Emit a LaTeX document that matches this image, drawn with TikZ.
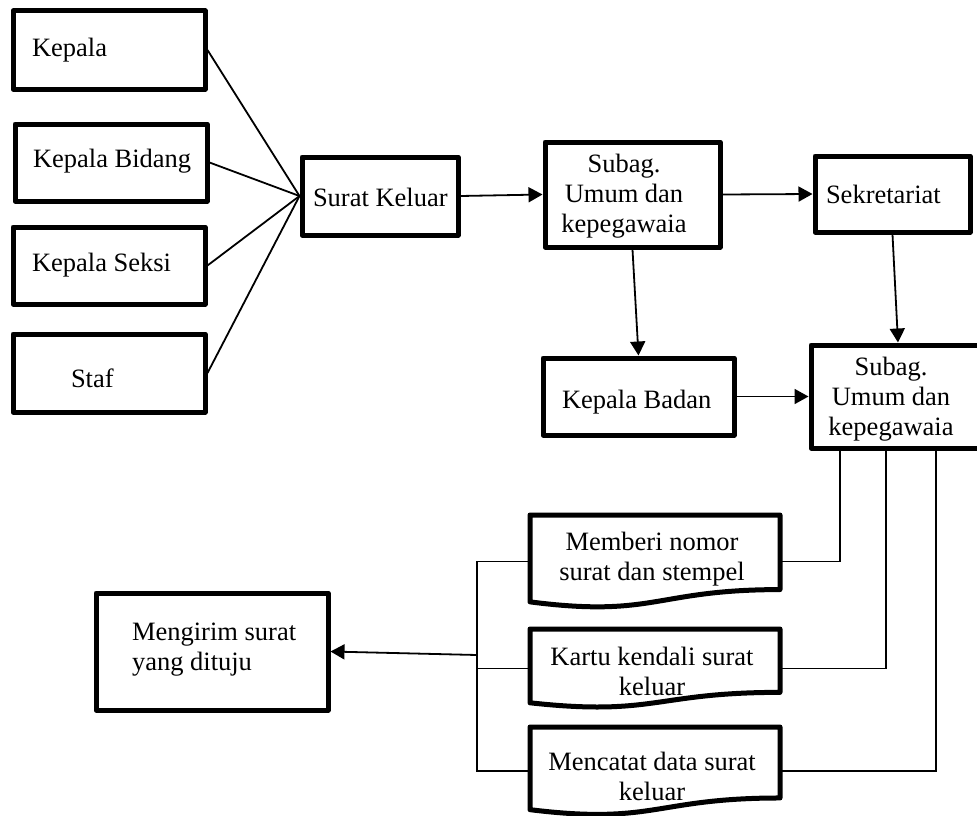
\documentclass[tikz,border=0pt]{standalone}
\usepackage{fontspec}
\setmainfont{Liberation Serif}
\usetikzlibrary{arrows.meta,calc}
\begin{document}
\begin{tikzpicture}[x=1pt,y=-1pt,
  box/.style={draw, line width=5pt, fill=white, inner sep=0pt, line join=round},
  docnode/.style={inner sep=0pt, outer sep=0pt},
  docline/.style={draw, line width=5pt, fill=white, line join=round},
  txt/.style={font=\fontsize{26.5}{30}\selectfont, inner sep=0pt, outer sep=0pt},
  conn/.style={line width=1.8pt},
  arr/.style={line width=1.8pt, -{Triangle[length=14pt,width=15pt]}}]
\useasboundingbox (0,0) rectangle (977,816);
% boxes
\node[box, minimum width=192pt, minimum height=78pt] (kepala) at (109,50) {};
\node[box, minimum width=192pt, minimum height=77pt] (bidang) at (111,162.5) {};
\node[box, minimum width=192pt, minimum height=77pt] (seksi) at (109,265.5) {};
\node[box, minimum width=192pt, minimum height=78pt] (staf) at (109,373) {};
\node[box, minimum width=156pt, minimum height=78pt] (surat) at (380,196) {};
\node[box, minimum width=175pt, minimum height=105pt] (subagA) at (632.5,194.5) {};
\node[box, minimum width=155pt, minimum height=76pt] (sekre) at (892.5,194) {};
\node[box, minimum width=191pt, minimum height=77pt] (badan) at (638.5,396.5) {};
\node[box, minimum width=174pt, minimum height=103pt] (subagB) at (898,396.5) {};
\node[box, minimum width=232pt, minimum height=117pt] (kirim) at (212,651.5) {};
% document shapes
\node[docnode, minimum width=250pt, minimum height=93pt] (memberi) at (655,561.5) {};
\node[docnode, minimum width=250pt, minimum height=79pt] (kartu) at (655,668.5) {};
\node[docnode, minimum width=250pt, minimum height=88.5pt] (catat) at (655,771.25) {};
\foreach \n in {memberi,kartu,catat}{
  \path[docline] (\n.north west) -- (\n.north east) -- ($(\n.north east)!0.802!(\n.south east)$)
    .. controls ($(\n.north)!0.802!(\n.south)$) and ($(\n.north)!1.1075!(\n.south)$) ..
    ($(\n.north west)!0.934!(\n.south west)$) -- cycle;
}
% texts
\node[txt, anchor=base west] (t1) at (32,57) {Kepala};
\node[txt, anchor=base west] (t2) at (33,167) {Kepala Bidang};
\node[txt, anchor=base west] (t3) at (32,271) {Kepala Seksi};
\node[txt, anchor=base west] (t4) at (71,387) {Staf};
\node[txt, anchor=base west] (t5) at (313,206) {Surat Keluar};
\node[txt, anchor=base, align=center] (t6) at (624,232) {Subag.\\Umum dan\\kepegawaia};
\node[txt, anchor=base west] (t7) at (826,203) {Sekretariat};
\node[txt, anchor=base west] (t8) at (562,408) {Kepala Badan};
\node[txt, anchor=base, align=center] (t9) at (891,435) {Subag.\\Umum dan\\kepegawaia};
\node[txt, anchor=base, align=center] (t10) at (652,580) {Memberi nomor\\surat dan stempel};
\node[txt, anchor=base, align=center] (t11) at (652,695) {Kartu kendali surat\\keluar};
\node[txt, anchor=base, align=center] (t12) at (652,800) {Mencatat data surat\\keluar};
\node[txt, anchor=base west, align=left] (t13) at (132,670) {Mengirim surat\\yang dituju};
% connectors
\foreach \n in {kepala,bidang,seksi,staf}{ \draw[conn] (\n.east) -- (surat.west); }
\draw[arr] (surat.east) -- (subagA.west);
\draw[arr] (subagA.east) -- (sekre.west);
\draw[arr] (subagA.south) -- (badan.north);
\draw[arr] (sekre.south) -- (subagB.north);
\draw[arr] (badan.east) -- (subagB.west);
\coordinate (b1) at (840,0);
\coordinate (b2) at (886,0);
\coordinate (b3) at (936,0);
\coordinate (bus) at (477,0);
\coordinate (busarr) at (477,655);
\draw[conn] (b1 |- subagB.south) |- (memberi.east);
\draw[conn] (b2 |- subagB.south) |- (kartu.east);
\draw[conn] (b3 |- subagB.south) |- (catat.east);
\draw[conn] (memberi.west) -| (bus |- catat.west) -- (catat.west);
\draw[conn] (kartu.west) -- (bus |- kartu.west);
\draw[arr] (busarr) -- (kirim.east);
\end{tikzpicture}
\end{document}
